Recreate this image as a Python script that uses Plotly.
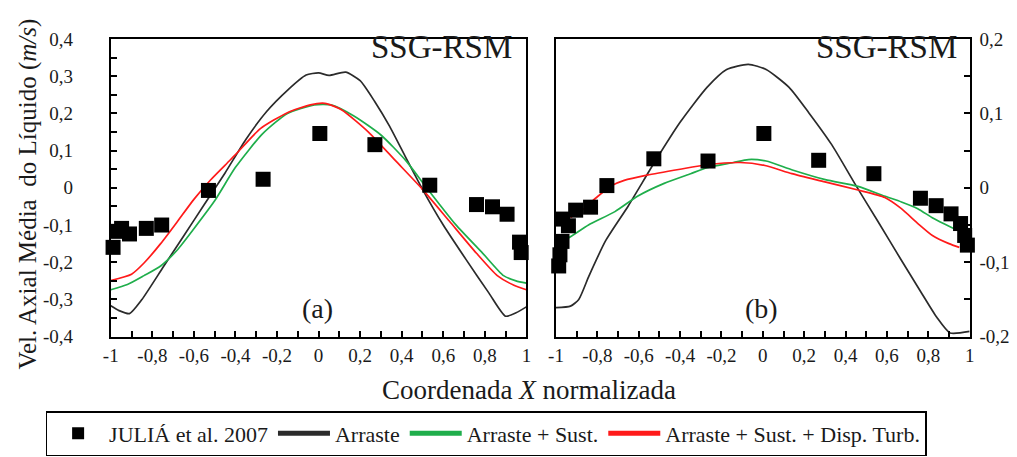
import numpy as np
import plotly.graph_objects as go

# ---- (a) data ----
exp_a_x = [-0.989, -0.971, -0.948, -0.910, -0.829, -0.755, -0.530, -0.267, 0.006, 0.271,
           0.535, 0.760, 0.837, 0.907, 0.967, 0.975]
exp_a_y = [-0.160, -0.117, -0.109, -0.124, -0.109, -0.100, -0.007, 0.023, 0.146, 0.116,
           0.007, -0.045, -0.051, -0.071, -0.146, -0.174]

arr_a_x = [-1.0, -0.96, -0.91, -0.85, -0.75, -0.65, -0.55, -0.45, -0.35, -0.25, -0.15, -0.06,
           0.0, 0.05, 0.13, 0.20, 0.27, 0.34, 0.42, 0.50, 0.60, 0.71, 0.82, 0.90, 0.95, 1.0]
arr_a_y = [-0.317, -0.330, -0.338, -0.300, -0.215, -0.130, -0.045, 0.040, 0.130, 0.205, 0.262,
           0.303, 0.309, 0.302, 0.311, 0.288, 0.232, 0.167, 0.081, -0.004, -0.100, -0.193,
           -0.283, -0.345, -0.336, -0.320]

sus_a_x = [-1.0, -0.92, -0.84, -0.76, -0.68, -0.60, -0.50, -0.40, -0.27, -0.15, -0.02, 0.06,
           0.17, 0.30, 0.42, 0.52, 0.66, 0.79, 0.89, 0.95, 1.0]
sus_a_y = [-0.274, -0.260, -0.236, -0.210, -0.167, -0.110, -0.035, 0.055, 0.145, 0.200, 0.223,
           0.223, 0.193, 0.142, 0.073, 0.0, -0.099, -0.176, -0.236, -0.250, -0.256]

dis_a_x = [-1.0, -0.90, -0.84, -0.76, -0.68, -0.60, -0.52, -0.43, -0.39, -0.28, -0.15, -0.04,
           0.03, 0.11, 0.24, 0.37, 0.50, 0.63, 0.76, 0.86, 0.94, 1.0]
dis_a_y = [-0.249, -0.232, -0.202, -0.150, -0.091, -0.031, 0.021, 0.072, 0.095, 0.159, 0.202,
           0.223, 0.227, 0.210, 0.150, 0.073, -0.004, -0.090, -0.176, -0.236, -0.262, -0.274]

# ---- (b) data ----
exp_b_x = [-0.987, -0.981, -0.971, -0.968, -0.940, -0.905, -0.833, -0.754, -0.527, -0.265,
           0.005, 0.270, 0.537, 0.762, 0.838, 0.910, 0.956, 0.976, 0.989, 1.005]
exp_b_y = [-0.105, -0.090, -0.072, -0.042, -0.051, -0.030, -0.026, 0.003, 0.039, 0.036,
           0.073, 0.037, 0.019, -0.014, -0.024, -0.035, -0.048, -0.064, -0.077, -0.100]

arr_b_x = [-1.0, -0.93, -0.89, -0.84, -0.76, -0.65, -0.52, -0.40, -0.27, -0.175, -0.07, 0.016,
           0.127, 0.222, 0.333, 0.444, 0.556, 0.667, 0.762, 0.841, 0.905, 1.0]
arr_b_y = [-0.161, -0.159, -0.150, -0.118, -0.071, -0.024, 0.036, 0.088, 0.135, 0.159, 0.166,
           0.159, 0.135, 0.101, 0.058, 0.006, -0.045, -0.096, -0.139, -0.174, -0.195, -0.193]

sus_b_x = [-0.95, -0.938, -0.843, -0.715, -0.604, -0.477, -0.349, -0.270, -0.142, -0.07, 0.016,
           0.143, 0.302, 0.460, 0.587, 0.670, 0.749, 0.824, 0.903, 0.951]
sus_b_y = [-0.068, -0.067, -0.050, -0.032, -0.011, 0.006, 0.019, 0.027, 0.034, 0.038, 0.036,
           0.024, 0.011, 0.002, -0.011, -0.019, -0.028, -0.041, -0.052, -0.058]

dis_b_x = [-0.93, -0.87, -0.80, -0.73, -0.67, -0.56, -0.40, -0.27, -0.11, 0.01, 0.14, 0.30,
           0.46, 0.59, 0.67, 0.75, 0.82, 0.90, 0.95]
dis_b_y = [-0.040, -0.029, -0.012, 0.003, 0.010, 0.017, 0.025, 0.031, 0.034, 0.030, 0.019,
           0.008, -0.003, -0.013, -0.028, -0.048, -0.064, -0.075, -0.080]

names = ["JULIÁ et al. 2007", "Arraste", "Arraste + Sust.", "Arraste + Sust. + Disp. Turb."]
colors = ["black", "#2b2b2b", "#1fae4b", "#ff1a1a"]

FONT = "Liberation Serif"
TXT = "#1a1a1a"
W, H = 1017, 457


def px_x(p):
    return p / W


def px_y(p):
    return 1 - p / H


def lab(v):
    if abs(v) < 1e-9:
        return "0"
    if abs(abs(v) - 1) < 1e-9:
        return "%d" % round(v)
    return ("%.1f" % v).replace(".", ",")


fig = go.Figure()

panels = [
    ("x", "y", exp_a_x, exp_a_y, [(arr_a_x, arr_a_y), (sus_a_x, sus_a_y), (dis_a_x, dis_a_y)], True),
    ("x2", "y2", exp_b_x, exp_b_y, [(arr_b_x, arr_b_y), (sus_b_x, sus_b_y), (dis_b_x, dis_b_y)], False),
]
for xa, ya, ex, ey, curves, leg in panels:
    for i, (cx, cy) in enumerate(curves):
        fig.add_trace(go.Scatter(x=cx, y=cy, xaxis=xa, yaxis=ya, mode="lines",
                                 line=dict(color=colors[i + 1], width=1.7, shape="spline", smoothing=0.6),
                                 name=names[i + 1], showlegend=leg, legendrank=i + 2, cliponaxis=False))
    fig.add_trace(go.Scatter(x=ex, y=ey, xaxis=xa, yaxis=ya, mode="markers",
                             marker=dict(symbol="square", size=15, color="black"),
                             name=names[0], showlegend=leg, legendrank=1, cliponaxis=False))

xt = [round(v, 1) for v in np.arange(-1, 1.001, 0.1)]
xtt = [lab(v) if i % 2 == 0 else "" for i, v in enumerate(xt)]
y1t = [round(v, 2) for v in np.arange(-0.4, 0.401, 0.05)]
y1tt = [lab(v) if i % 2 == 0 else "" for i, v in enumerate(y1t)]
y2t = [round(v, 2) for v in np.arange(-0.2, 0.201, 0.05)]
y2tt = [lab(v) if i % 2 == 0 else "" for i, v in enumerate(y2t)]

axcommon = dict(showgrid=False, zeroline=False, showline=True, linecolor="black", linewidth=2,
                mirror=True, ticks="inside", ticklen=6, tickwidth=1.5, tickcolor="black",
                tickfont=dict(family=FONT, size=19, color=TXT), tickmode="array")

fig.update_layout(
    width=W, height=H, margin=dict(l=0, r=0, t=0, b=0),
    paper_bgcolor="white", plot_bgcolor="white",
    font=dict(family=FONT, color=TXT),
    xaxis=dict(domain=[px_x(96), px_x(517)], range=[-1, 1], tickvals=xt, ticktext=xtt,
               anchor="y", ticklabelstandoff=1, **axcommon),
    yaxis=dict(domain=[px_y(334), px_y(22)], range=[-0.4, 0.4], tickvals=y1t, ticktext=y1tt,
               anchor="x", ticklabelstandoff=32, **axcommon),
    xaxis2=dict(domain=[px_x(547), px_x(966)], range=[-1, 1], tickvals=xt, ticktext=xtt,
                anchor="y2", ticklabelstandoff=1, **axcommon),
    yaxis2=dict(domain=[px_y(334), px_y(22)], range=[-0.2, 0.2], tickvals=y2t, ticktext=y2tt,
                anchor="x2", side="right", ticklabelstandoff=4, **axcommon),
    showlegend=True,
    legend=dict(orientation="h", x=px_x(30), y=px_y(412), xanchor="left", yanchor="top",
                bordercolor="black", borderwidth=1.5, bgcolor="white", itemwidth=52,
                itemsizing="constant",
                font=dict(family=FONT, size=22, color=TXT), traceorder="normal"),
)

ann = [
    dict(text="SSG-RSM", x=px_x(504), y=px_y(30), xanchor="right", yanchor="middle", size=33),
    dict(text="SSG-RSM", x=px_x(955), y=px_y(30), xanchor="right", yanchor="middle", size=33),
    dict(text="(a)", x=px_x(305), y=px_y(304), xanchor="center", yanchor="middle", size=28),
    dict(text="(b)", x=px_x(755), y=px_y(305), xanchor="center", yanchor="middle", size=28),
    dict(text="Coordenada <i>X</i> normalizada", x=px_x(520), y=px_y(390), xanchor="center",
         yanchor="middle", size=27),
]
for a in ann:
    fig.add_annotation(text=a["text"], x=a["x"], y=a["y"], xref="paper", yref="paper",
                       xanchor=a["xanchor"], yanchor=a["yanchor"], showarrow=False,
                       font=dict(family=FONT, size=a["size"], color=TXT))
fig.add_annotation(text="Vel. Axial Média  do Líquido (<i>m/s</i>)", x=px_x(12), y=px_y(184),
                   xref="paper", yref="paper", xanchor="center", yanchor="middle", textangle=-90,
                   showarrow=False, font=dict(family=FONT, size=25, color=TXT))

fig.write_html("out.html")
